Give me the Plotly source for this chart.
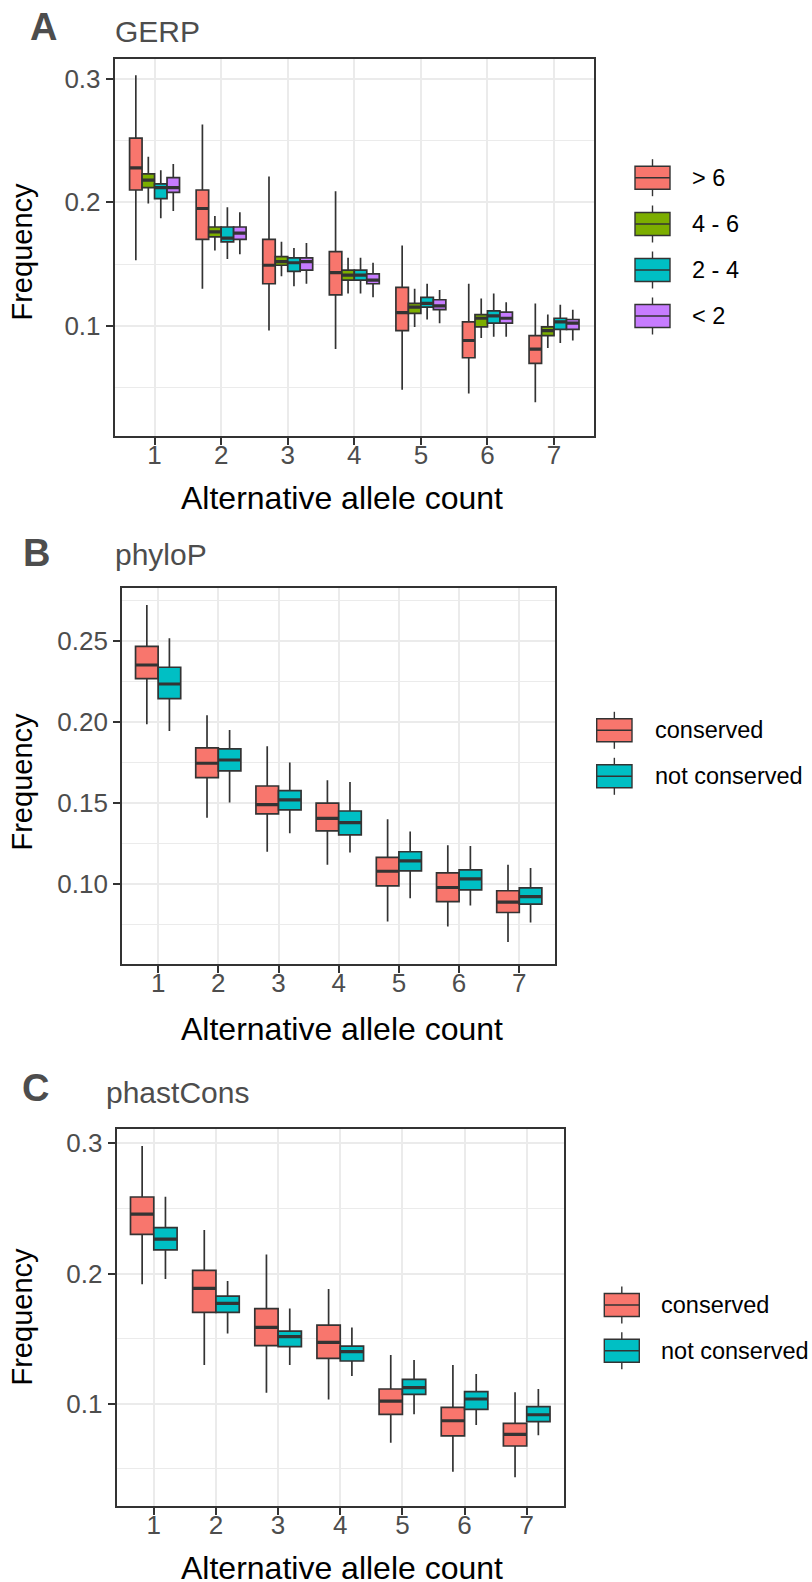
import plotly.graph_objects as go

W, H = 812, 1582

# ---------------- data ----------------
categories = [1, 2, 3, 4, 5, 6, 7]
tick_labels = ["1", "2", "3", "4", "5", "6", "7"]

# Panel A: GERP
gerp_groups = ["> 6", "4 - 6", "2 - 4", "< 2"]
gerp_colors = ["#F8766D", "#7CAE00", "#00BFC4", "#C77CFF"]
gerp_upper = [
    [0.303, 0.263, 0.221, 0.209, 0.165, 0.134, 0.118],
    [0.237, 0.189, 0.168, 0.155, 0.130, 0.122, 0.109],
    [0.226, 0.196, 0.163, 0.155, 0.134, 0.126, 0.117],
    [0.231, 0.192, 0.167, 0.151, 0.129, 0.119, 0.113],
]
gerp_q3 = [
    [0.252, 0.210, 0.170, 0.160, 0.131, 0.103, 0.092],
    [0.223, 0.180, 0.156, 0.145, 0.118, 0.109, 0.099],
    [0.215, 0.180, 0.155, 0.145, 0.123, 0.112, 0.106],
    [0.220, 0.180, 0.155, 0.142, 0.121, 0.111, 0.105],
]
gerp_median = [
    [0.228, 0.195, 0.149, 0.143, 0.1105, 0.088, 0.081],
    [0.218, 0.176, 0.152, 0.141, 0.115, 0.106, 0.096],
    [0.212, 0.171, 0.151, 0.141, 0.118, 0.108, 0.103],
    [0.212, 0.175, 0.152, 0.137, 0.116, 0.106, 0.102],
]
gerp_q1 = [
    [0.210, 0.170, 0.134, 0.125, 0.096, 0.074, 0.0695],
    [0.212, 0.172, 0.149, 0.137, 0.110, 0.099, 0.092],
    [0.203, 0.168, 0.144, 0.137, 0.115, 0.102, 0.097],
    [0.208, 0.170, 0.145, 0.134, 0.113, 0.102, 0.097],
]
gerp_lower = [
    [0.153, 0.130, 0.096, 0.081, 0.048, 0.045, 0.038],
    [0.199, 0.161, 0.140, 0.126, 0.099, 0.090, 0.082],
    [0.187, 0.154, 0.132, 0.126, 0.105, 0.091, 0.086],
    [0.193, 0.158, 0.134, 0.123, 0.102, 0.091, 0.088],
]

# Panel B / C groups
cons_groups = ["conserved", "not conserved"]
cons_colors = ["#F8766D", "#00BFC4"]

# Panel B: phyloP
phylop_upper = [
    [0.272, 0.204, 0.185, 0.164, 0.140, 0.124, 0.112],
    [0.2514, 0.195, 0.175, 0.163, 0.1324, 0.1236, 0.110],
]
phylop_q3 = [
    [0.2465, 0.184, 0.1605, 0.150, 0.1166, 0.107, 0.096],
    [0.2336, 0.1833, 0.1577, 0.1451, 0.120, 0.1088, 0.0977],
]
phylop_median = [
    [0.235, 0.1745, 0.149, 0.1406, 0.108, 0.098, 0.089],
    [0.2233, 0.1765, 0.1519, 0.138, 0.1144, 0.1033, 0.0924],
]
phylop_q1 = [
    [0.2266, 0.1657, 0.1433, 0.1328, 0.099, 0.0893, 0.0826],
    [0.2143, 0.1698, 0.1458, 0.1304, 0.1082, 0.0965, 0.0877],
]
phylop_lower = [
    [0.1985, 0.141, 0.120, 0.112, 0.077, 0.074, 0.0645],
    [0.1944, 0.1503, 0.1314, 0.1195, 0.0914, 0.0869, 0.0764],
]

# Panel C: phastCons
phast_upper = [
    [0.298, 0.2334, 0.2147, 0.1881, 0.1374, 0.1297, 0.1087],
    [0.259, 0.1942, 0.1732, 0.1586, 0.1335, 0.1228, 0.1113],
]
phast_q3 = [
    [0.2588, 0.2024, 0.173, 0.1604, 0.1113, 0.0972, 0.0849],
    [0.2352, 0.1827, 0.1558, 0.1443, 0.1187, 0.1092, 0.0977],
]
phast_median = [
    [0.2457, 0.1886, 0.1586, 0.1471, 0.102, 0.0869, 0.0764],
    [0.2265, 0.1771, 0.1515, 0.140, 0.1123, 0.1036, 0.0915],
]
phast_q1 = [
    [0.2301, 0.1702, 0.1446, 0.1348, 0.0918, 0.0752, 0.0675],
    [0.2181, 0.1702, 0.1438, 0.1328, 0.1072, 0.0956, 0.0862],
]
phast_lower = [
    [0.1917, 0.1297, 0.1085, 0.1033, 0.070, 0.0478, 0.0434],
    [0.1958, 0.154, 0.1297, 0.1213, 0.0918, 0.0836, 0.0757],
]

# ---------------- styling ----------------
FONT = "Liberation Sans, Arial, Helvetica, sans-serif"
EDGE = "#333333"
GRID = "#EBEBEB"
TICKCOL = "#4D4D4D"


def px_x(v):
    return v / W


def px_y(v):
    return 1 - v / H


panels = [
    dict(name="A", title="GERP", groups=gerp_groups, colors=gerp_colors,
         upper=gerp_upper, q3=gerp_q3, med=gerp_median, q1=gerp_q1, lower=gerp_lower,
         box=(114.6, 594.0, 59.0, 435.7), yrange=[0.0108, 0.3162],
         ytickvals=[0.1, 0.2, 0.3], yfmt=".1f", yminor=[0.05, 0.15, 0.25],
         letter=(29, 27.5), ttl=(113, 31.2), ylab_y=252, xlab_y=497.7,
         leg_x=(635, 670, 690), leg_y=[177.7, 224, 270, 316]),
    dict(name="B", title="phyloP", groups=cons_groups, colors=cons_colors,
         upper=phylop_upper, q3=phylop_q3, med=phylop_median, q1=phylop_q1, lower=phylop_lower,
         box=(122.0, 555.4, 587.7, 964.3), yrange=[0.0507, 0.2826],
         ytickvals=[0.10, 0.15, 0.20, 0.25], yfmt=".2f", yminor=[0.075, 0.125, 0.175, 0.225, 0.275],
         letter=(22, 553), ttl=(113, 554.5), ylab_y=782, xlab_y=1028.8,
         leg_x=(596.7, 632, 652.7), leg_y=[730.3, 776.3]),
    dict(name="C", title="phastCons", groups=cons_groups, colors=cons_colors,
         upper=phast_upper, q3=phast_q3, med=phast_median, q1=phast_q1, lower=phast_lower,
         box=(116.5, 564.0, 1129.3, 1506.0), yrange=[0.0214, 0.3108],
         ytickvals=[0.1, 0.2, 0.3], yfmt=".1f", yminor=[0.05, 0.15, 0.25],
         letter=(21.4, 1087.5), ttl=(104, 1092), ylab_y=1317, xlab_y=1567.5,
         leg_x=(604.3, 639.3, 659.3), leg_y=[1305, 1350.8]),
]

fig = go.Figure()
layout = dict(
    width=W, height=H, autosize=False,
    margin=dict(l=0, r=0, t=0, b=0),
    paper_bgcolor="white", plot_bgcolor="white",
    boxmode="group", boxgap=0.25, boxgroupgap=0.0,
    showlegend=False,
    font=dict(family=FONT, color="black"),
)
annotations = []
shapes = []

for i, p in enumerate(panels):
    sfx = "" if i == 0 else str(i + 1)
    xa, ya = "x" + sfx, "y" + sfx
    x0, x1, y0, y1 = p["box"]
    # boxes
    for g, (grp, col) in enumerate(zip(p["groups"], p["colors"])):
        fig.add_trace(go.Box(
            x=categories, q1=p["q1"][g], median=p["med"][g], q3=p["q3"][g],
            lowerfence=p["lower"][g], upperfence=p["upper"][g],
            name=grp, offsetgroup=f"{p['name']}{g}", alignmentgroup=p["name"],
            fillcolor=col, line=dict(color=EDGE, width=1.7), whiskerwidth=0,
            boxpoints=False, hoverinfo="skip", xaxis=xa, yaxis=ya,
        ))
    # thicker median lines (ggplot draws the median twice as thick)
    for g, grp in enumerate(p["groups"]):
        fig.add_trace(go.Box(
            x=categories, q1=p["med"][g], median=p["med"][g], q3=p["med"][g],
            lowerfence=p["med"][g], upperfence=p["med"][g],
            name=grp + " median", offsetgroup=f"{p['name']}{g}", alignmentgroup=p["name"],
            fillcolor="rgba(0,0,0,0)", line=dict(color=EDGE, width=3.2), whiskerwidth=0,
            boxpoints=False, hoverinfo="skip", xaxis=xa, yaxis=ya,
        ))

    axcommon = dict(
        showline=True, mirror=True, linecolor=EDGE, linewidth=1.7,
        ticks="outside", ticklen=7, tickwidth=1.7, tickcolor=EDGE,
        tickfont=dict(family=FONT, size=26, color=TICKCOL),
        showgrid=True, gridcolor=GRID, gridwidth=2, zeroline=False,
        fixedrange=True,
    )
    layout["xaxis" + sfx] = dict(
        axcommon, anchor=ya, domain=[px_x(x0), px_x(x1)],
        range=[0.4, 7.6], tickmode="array", tickvals=categories, ticktext=tick_labels,
        ticklabelstandoff=-12,
    )
    layout["yaxis" + sfx] = dict(
        axcommon, anchor=xa, domain=[px_y(y1), px_y(y0)],
        range=p["yrange"], tickmode="array", tickvals=p["ytickvals"], tickformat=p["yfmt"],
        minor=dict(tickmode="array", tickvals=p["yminor"], showgrid=True,
                   gridcolor=GRID, gridwidth=1, ticks=""),
    )

    # panel letter and title
    annotations.append(dict(text=f"<b>{p['name']}</b>", x=px_x(p["letter"][0] - 1), y=px_y(p["letter"][1]),
                            xref="paper", yref="paper", xanchor="left", yanchor="middle",
                            showarrow=False, font=dict(family=FONT, size=38, color="#4D4D4D")))
    annotations.append(dict(text=p["title"], x=px_x(p["ttl"][0]), y=px_y(p["ttl"][1]),
                            xref="paper", yref="paper", xanchor="left", yanchor="middle",
                            showarrow=False, font=dict(family=FONT, size=30, color="#4D4D4D")))
    # axis titles
    annotations.append(dict(text="Frequency", x=px_x(21.5), y=px_y(p["ylab_y"]),
                            xref="paper", yref="paper", xanchor="center", yanchor="middle",
                            textangle=-90, showarrow=False,
                            font=dict(family=FONT, size=29, color="black")))
    annotations.append(dict(text="Alternative allele count", x=px_x(342), y=px_y(p["xlab_y"]),
                            xref="paper", yref="paper", xanchor="center", yanchor="middle",
                            showarrow=False, font=dict(family=FONT, size=32, color="black")))

    # legend (ggplot-style box keys)
    kx0, kx1, tx = p["leg_x"]
    kcx = (kx0 + kx1) / 2
    for g, (grp, col) in enumerate(zip(p["groups"], p["colors"])):
        cy = p["leg_y"][g]
        shapes.append(dict(type="line", xref="paper", yref="paper",
                           x0=px_x(kcx), x1=px_x(kcx), y0=px_y(cy - 18.5), y1=px_y(cy + 18.5),
                           line=dict(color=EDGE, width=1.4)))
        shapes.append(dict(type="rect", xref="paper", yref="paper",
                           x0=px_x(kx0), x1=px_x(kx1), y0=px_y(cy - 11.5), y1=px_y(cy + 11.5),
                           fillcolor=col, line=dict(color=EDGE, width=1.4)))
        shapes.append(dict(type="line", xref="paper", yref="paper",
                           x0=px_x(kx0), x1=px_x(kx1), y0=px_y(cy), y1=px_y(cy),
                           line=dict(color=EDGE, width=1.4)))
        annotations.append(dict(text=grp, x=px_x(tx), y=px_y(cy),
                                xref="paper", yref="paper", xanchor="left", yanchor="middle",
                                showarrow=False, font=dict(family=FONT, size=23.5, color="black")))

layout["annotations"] = annotations
layout["shapes"] = shapes
fig.update_layout(**layout)
fig.write_html("out.html")
